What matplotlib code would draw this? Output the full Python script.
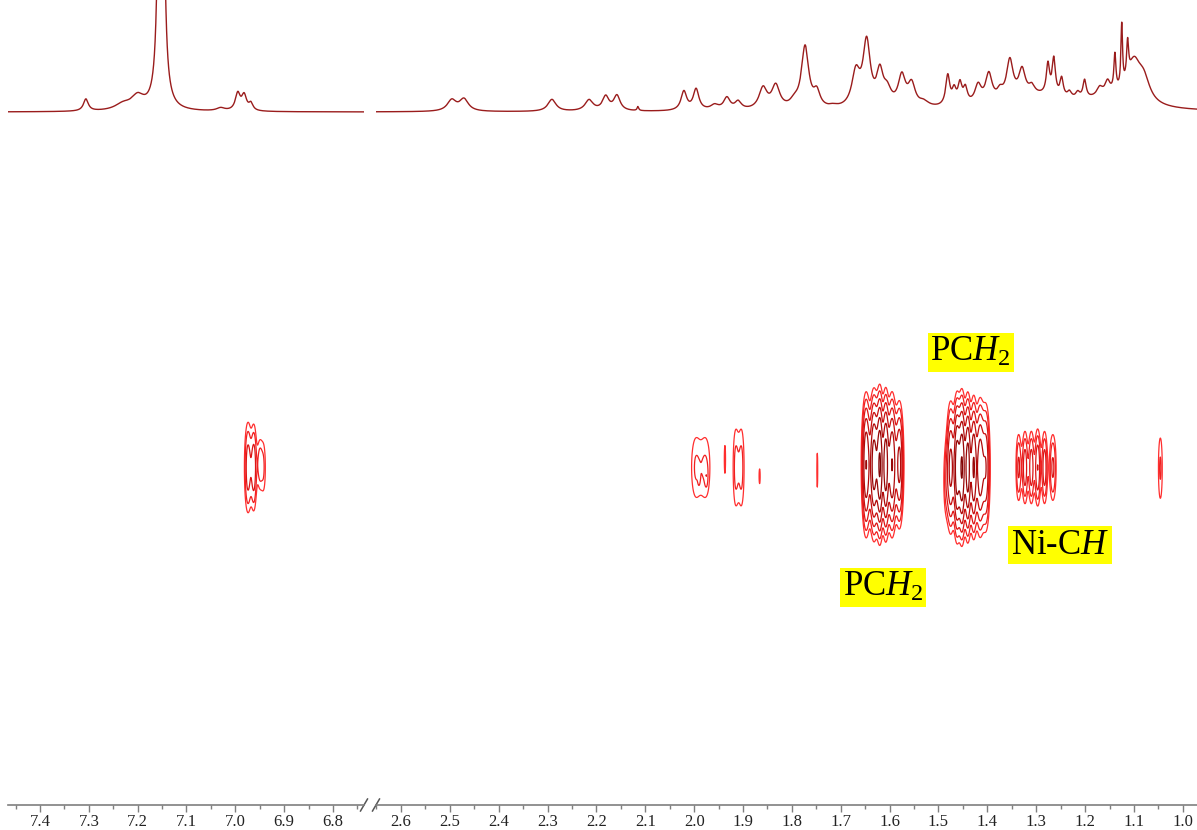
import numpy as np
import matplotlib
matplotlib.use('Agg')
import matplotlib.pyplot as plt

plt.rcParams['font.family'] = ['Liberation Serif', 'DejaVu Serif']
plt.rcParams['mathtext.fontset'] = 'custom'
plt.rcParams['mathtext.rm'] = 'Liberation Serif'
plt.rcParams['mathtext.it'] = 'Liberation Serif:italic'

# 1D proton spectrum: peak position (ppm), height, half-width (ppm)
peak_ppm = [7.306, 7.200, 7.230, 7.152, 7.030, 6.995, 6.982, 6.968,
            2.496, 2.471, 2.291, 2.215, 2.181, 2.158, 2.115, 2.021, 1.996,
            1.958, 1.933, 1.910, 1.859, 1.833, 1.795, 1.773, 1.749, 1.715,
            1.669, 1.647, 1.620, 1.605, 1.575, 1.555, 1.530, 1.481, 1.468,
            1.456, 1.445, 1.419, 1.397, 1.374, 1.354, 1.329, 1.309, 1.276,
            1.264, 1.248, 1.232, 1.215, 1.201, 1.170, 1.154, 1.139, 1.125,
            1.113, 1.100, 1.080, 1.300, 1.150]
peak_height = [12, 13, 6, 2000, 3, 17, 15, 7,
               11, 12, 12, 11, 14, 15, 4, 19, 21,
               5, 12, 8, 21, 23, 6, 62, 15, 2,
               34, 64, 32, 15, 30, 22, 5, 30, 14,
               20, 15, 18, 28, 8, 38, 26, 8, 30,
               36, 18, 6, 6, 18, 8, 12, 36, 62,
               36, 38, 22, 14, 10]
peak_width = [0.006, 0.016, 0.02, 0.0023, 0.01, 0.006, 0.006, 0.005,
              0.011, 0.011, 0.010, 0.010, 0.008, 0.008, 0.002, 0.007, 0.007,
              0.010, 0.008, 0.008, 0.010, 0.010, 0.010, 0.009, 0.008, 0.01,
              0.010, 0.009, 0.008, 0.010, 0.009, 0.009, 0.012, 0.005, 0.005,
              0.005, 0.005, 0.008, 0.008, 0.007, 0.008, 0.008, 0.007, 0.004,
              0.004, 0.004, 0.005, 0.005, 0.004, 0.007, 0.006, 0.0025, 0.002,
              0.0025, 0.016, 0.015, 0.09, 0.05]

# 2D cross peaks: F2 ppm, F1 position (0-1), F2 width, F1 width, intensity
cross_ppm = [6.974, 6.962, 6.950, 6.942,
             1.997, 1.976, 1.990, 1.975, 1.937, 1.915, 1.903, 1.866, 1.748,
             1.648, 1.632, 1.620, 1.608, 1.595, 1.580,
             1.485, 1.475, 1.462, 1.452, 1.440, 1.428, 1.415, 1.403,
             1.336, 1.323, 1.310, 1.297, 1.283, 1.266,
             1.046]
cross_f1 = [0.50, 0.50, 0.505, 0.50,
            0.50, 0.50, 0.487, 0.487, 0.512, 0.50, 0.50, 0.487, 0.496,
            0.504, 0.504, 0.504, 0.504, 0.504, 0.504,
            0.48, 0.50, 0.50, 0.50, 0.50, 0.50, 0.50, 0.50,
            0.50, 0.50, 0.50, 0.50, 0.50, 0.50,
            0.499]
cross_sx = [0.005, 0.004, 0.004, 0.004,
            0.009, 0.009, 0.0015, 0.002, 0.0015, 0.005, 0.005, 0.0015, 0.0012,
            0.005, 0.005, 0.004, 0.004, 0.005, 0.005,
            0.004, 0.005, 0.004, 0.004, 0.004, 0.004, 0.005, 0.005,
            0.004, 0.004, 0.004, 0.004, 0.004, 0.005,
            0.004]
cross_sy = [0.045, 0.042, 0.030, 0.035,
            0.045, 0.045, 0.008, 0.010, 0.025, 0.052, 0.052, 0.015, 0.035,
            0.053, 0.053, 0.053, 0.053, 0.053, 0.050,
            0.040, 0.052, 0.052, 0.052, 0.052, 0.052, 0.052, 0.052,
            0.036, 0.036, 0.036, 0.036, 0.036, 0.036,
            0.046]
cross_amp = [3.0, 3.0, 1.8, 1.4,
             1.5, 1.5, 0.8, 0.8, 1.4, 1.7, 1.7, 1.3, 1.3,
             8, 10, 12, 10, 8, 6,
             1.5, 6, 10, 12, 10, 8, 7, 5,
             2.5, 3, 3, 3.5, 3, 2.5,
             1.6]

levels = [1.0, 1.5, 2.3, 3.5, 5.3, 8.0, 12.0]
level_colors = ['#ff2e2e', '#f02020', '#dd1515', '#c80f0f', '#b00a0a', '#980606', '#820303']

left_ticks = [7.4, 7.3, 7.2, 7.1, 7.0, 6.9, 6.8]
right_ticks = [2.6, 2.5, 2.4, 2.3, 2.2, 2.1, 2.0, 1.9, 1.8, 1.7, 1.6, 1.5, 1.4, 1.3, 1.2, 1.1, 1.0]

segments = [(7.4655, 6.7365, left_ticks), (2.651, 0.971, right_ticks)]

W, H = 1197, 830
AX_TOP, AX_BOT = 130, 805
fig = plt.figure(figsize=(W / 100, H / 100), dpi=100)

x_px = [(8, 364), (376, 1197)]
spec_color = '#9a1c1c'

pk_x = np.array(peak_ppm)
pk_h = np.array(peak_height, dtype=float)
pk_w = np.array(peak_width)

axes_2d = []
for (x0, x1), (lo, hi, ticks) in zip(x_px, segments):
    left = x0 / W
    width = (x1 - x0) / W

    # top 1D trace
    ax_top = fig.add_axes([left, (H - 125) / H, width, 125 / H])
    x = np.linspace(hi, lo, 8000)
    spec = np.zeros_like(x)
    for p, h, g in zip(pk_x, pk_h, pk_w):
        spec += h * g ** 2 / ((x - p) ** 2 + g ** 2)
    ax_top.plot(x, spec, color=spec_color, lw=1.0)
    ax_top.set_xlim(lo, hi)
    ax_top.set_ylim(-13, 112)
    ax_top.axis('off')

    # 2D contour area
    ax = fig.add_axes([left, (H - AX_BOT) / H, width, (AX_BOT - AX_TOP) / H])
    gx = np.linspace(hi, lo, 3500)
    gy = np.linspace(0, 1, 500)
    X, Y = np.meshgrid(gx, gy)
    Z = np.zeros_like(X)
    for p, f, sx, sy, a in zip(cross_ppm, cross_f1, cross_sx, cross_sy, cross_amp):
        if p > lo + 0.05 or p < hi - 0.05:
            continue
        Z += a * np.exp(-(X - p) ** 2 / (2 * sx ** 2) - (Y - f) ** 2 / (2 * sy ** 2))
    ax.contour(X, Y, Z, levels=levels, colors=level_colors, linewidths=0.9)
    ax.set_xlim(lo, hi)
    ax.set_ylim(0, 1)
    for s in ['top', 'left', 'right']:
        ax.spines[s].set_visible(False)
    ax.spines['bottom'].set_color('#7f7f7f')
    ax.spines['bottom'].set_linewidth(1.2)
    ax.set_yticks([])
    ax.set_xticks(ticks)
    ax.set_xticklabels(['%.1f' % t for t in ticks])
    minor = [t - 0.05 for t in ticks] + [ticks[0] + 0.05]
    ax.set_xticks([m for m in minor if hi <= m <= lo], minor=True)
    ax.tick_params(axis='x', which='major', length=5, width=1, color='#7f7f7f',
                   labelsize=12, labelcolor='#222222', pad=1.5)
    ax.tick_params(axis='x', which='minor', length=3, width=1, color='#7f7f7f')
    axes_2d.append(ax)

ax_left, ax_right = axes_2d

# break marks (//) at the gap between the two segments
for a, xpos, wpx in [(ax_left, 1.0, 356), (ax_right, 0.0, 821)]:
    dx = 3.5 / wpx
    dy = 6.0 / (AX_BOT - AX_TOP)
    a.plot([xpos - dx, xpos + dx], [-dy, dy], transform=a.transAxes,
           color='#555555', lw=1.1, clip_on=False)

# labels
box = dict(boxstyle='square,pad=0.08', facecolor='#ffff00', edgecolor='none')
ax_right.text(1.434, 0.670, 'PC$\\mathit{H}_2$', fontsize=25, ha='center', va='center', bbox=box)
ax_right.text(1.614, 0.322, 'PC$\\mathit{H}_2$', fontsize=25, ha='center', va='center', bbox=box)
ax_right.text(1.252, 0.385, 'Ni-C$\\mathit{H}$', fontsize=25, ha='center', va='center', bbox=box)

fig.savefig('out.png', dpi=100, facecolor='white')
